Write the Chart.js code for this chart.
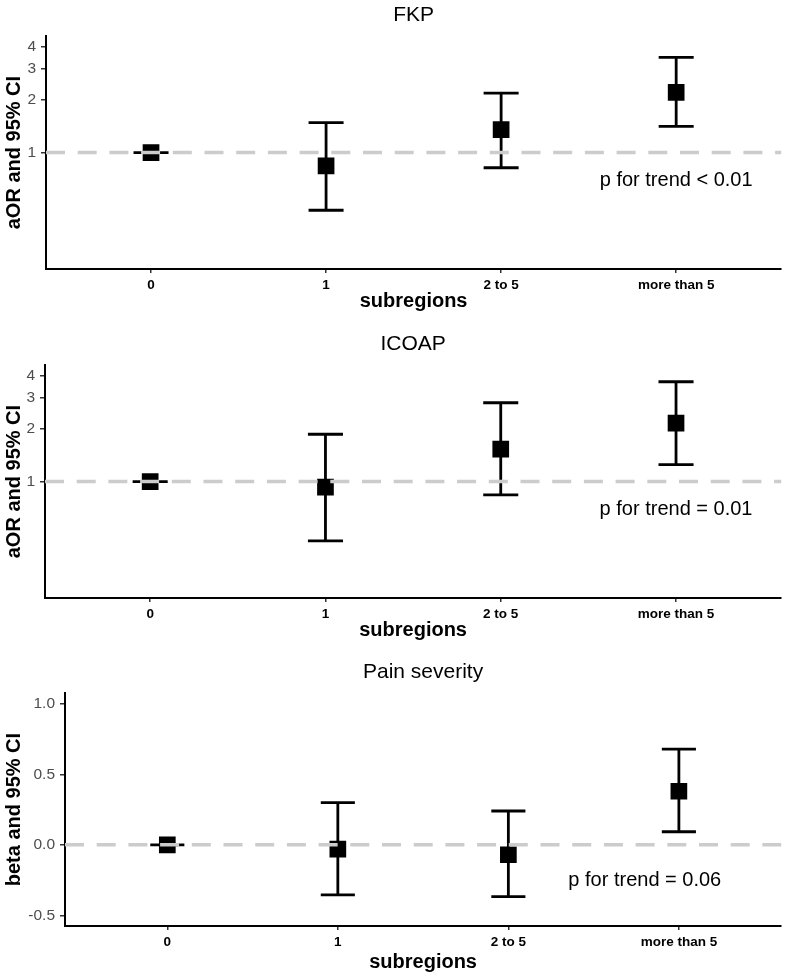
<!DOCTYPE html>
<html>
<head>
<meta charset="utf-8">
<script src="https://cdn.jsdelivr.net/npm/chart.js@4"></script>
<style>
  body { margin: 0; width: 785px; height: 975px; overflow: hidden; background: #fff; position: relative; }
  canvas { position: absolute; left: 0; }
</style>
</head>
<body>
<canvas id="fkp" width="793" height="329" style="top:0px"></canvas>
<canvas id="icoap" width="793" height="329" style="top:329px"></canvas>
<canvas id="pain" width="793" height="329" style="top:657px"></canvas>
<script>
// number of pain subregions
const categories = ['0', '1', '2 to 5', 'more than 5'];

// FKP: adjusted odds ratio and 95% CI
const fkpEst  = [1, 0.84, 1.35, 2.20];
const fkpLow  = [1, 0.47, 0.82, 1.41];
const fkpHigh = [1, 1.48, 2.18, 3.48];

// ICOAP: adjusted odds ratio and 95% CI
const icoapEst  = [1, 0.93, 1.53, 2.15];
const icoapLow  = [1, 0.46, 0.84, 1.25];
const icoapHigh = [1, 1.86, 2.81, 3.70];

// pain severity: beta and 95% CI
const painEst  = [0, -0.03, -0.07, 0.38];
const painLow  = [0, -0.355, -0.367, 0.093];
const painHigh = [0, 0.30, 0.24, 0.678];

const orTicks = [1, 2, 3, 4];
const betaTicks = [-0.5, 0, 0.5, 1.0];
const trendNotes = ['p for trend < 0.01', 'p for trend = 0.01', 'p for trend = 0.06'];

Chart.defaults.font.family = '"Liberation Sans", Arial, sans-serif';

// ggplot style 5% expansion of the axis limits
function expandLog(lo, hi) {
  const a = Math.log10(lo), b = Math.log10(hi), e = (b - a) * 0.05;
  return [Math.pow(10, a - e), Math.pow(10, b + e)];
}
function expandLin(lo, hi) {
  const e = (hi - lo) * 0.05;
  return [lo - e, hi + e];
}

const forestPlugin = {
  id: 'forest',
  beforeDatasetsDraw(chart, args, o) {
    const { ctx, scales: { x, y } } = chart;
    ctx.save();
    ctx.strokeStyle = '#000';
    ctx.lineWidth = 2.8;
    o.low.forEach((lo, i) => {
      const px = x.getPixelForValue(i);
      const w = x.getPixelForValue(i + 0.1) - px;
      const yl = y.getPixelForValue(lo);
      const yh = y.getPixelForValue(o.high[i]);
      ctx.beginPath();
      ctx.moveTo(px, yl); ctx.lineTo(px, yh);
      ctx.moveTo(px - w, yl); ctx.lineTo(px + w, yl);
      ctx.moveTo(px - w, yh); ctx.lineTo(px + w, yh);
      ctx.stroke();
    });
    ctx.restore();
  },
  afterDatasetsDraw(chart, args, o) {
    const { ctx, chartArea, scales: { x, y } } = chart;
    ctx.save();
    // reference line
    const ry = y.getPixelForValue(o.ref);
    ctx.strokeStyle = '#cccccc';
    ctx.lineWidth = 3.5;
    ctx.setLineDash([19, 12.7]);
    ctx.beginPath();
    ctx.moveTo(chartArea.left, ry);
    ctx.lineTo(chartArea.right, ry);
    ctx.stroke();
    // trend note
    ctx.setLineDash([]);
    ctx.fillStyle = '#000';
    ctx.font = '20px "Liberation Sans", Arial, sans-serif';
    ctx.textAlign = 'center';
    ctx.textBaseline = 'middle';
    ctx.fillText(o.note, x.getPixelForValue(o.noteX), y.getPixelForValue(o.noteY));
    ctx.restore();
  }
};

function drawPanel(id, p) {
  return new Chart(id, {
    type: 'scatter',
    data: {
      datasets: [{
        data: p.est.map((v, i) => ({ x: i, y: v })),
        pointStyle: 'rect',
        pointRadius: 11.8,
        pointHoverRadius: 11.8,
        backgroundColor: '#000',
        borderWidth: 0
      }]
    },
    options: {
      responsive: false,
      animation: false,
      devicePixelRatio: 1,
      events: [],
      layout: { padding: { top: 0, right: 4, bottom: 0, left: 0 } },
      plugins: {
        legend: { display: false },
        tooltip: { enabled: false },
        title: {
          display: true, text: p.title, fullSize: false, color: '#000',
          font: { size: 21, weight: 'normal' },
          padding: { top: 3, bottom: 8 }
        },
        forest: { low: p.low, high: p.high, ref: p.ref, note: p.note, noteX: p.noteX, noteY: p.noteY }
      },
      scales: {
        x: {
          type: 'linear', min: -0.6, max: 3.6,
          afterBuildTicks: s => { s.ticks = categories.map((c, i) => ({ value: i })); },
          afterFit: s => { s.height = 60; },
          ticks: {
            callback: v => categories[v], color: '#000', autoSkip: false, maxRotation: 0,
            font: { size: 13.5, weight: 'bold' }, padding: 4
          },
          grid: { display: true, drawOnChartArea: false, tickLength: 4, color: '#333', lineWidth: 1.5 },
          border: { display: true, color: '#000', width: 2 },
          title: {
            display: true, text: 'subregions', color: '#000',
            font: { size: 20, weight: 'bold' }, padding: { top: 0, bottom: p.xTitlePad }
          }
        },
        y: {
          type: p.log ? 'logarithmic' : 'linear',
          min: p.range[0], max: p.range[1],
          afterBuildTicks: s => { s.ticks = p.ticks.map(v => ({ value: v })); },
          afterFit: s => { s.width = p.axisWidth; },
          ticks: {
            callback: p.fmt, color: '#4d4d4d', autoSkip: false,
            font: { size: 15.5 }, padding: 5
          },
          grid: { display: true, drawOnChartArea: false, tickLength: 5, color: '#333', lineWidth: 1.5 },
          border: { display: true, color: '#000', width: 2 },
          title: {
            display: true, text: p.yTitle, color: '#000',
            font: { size: 20, weight: 'bold' }, padding: { top: 2, bottom: 0 }
          }
        }
      }
    },
    plugins: [forestPlugin]
  });
}

drawPanel('fkp', {
  title: 'FKP', yTitle: 'aOR and 95% CI', log: true,
  est: fkpEst, low: fkpLow, high: fkpHigh,
  range: expandLog(0.25, 4), ticks: orTicks, fmt: v => String(v),
  axisWidth: 46, xTitlePad: 16, ref: 1, note: trendNotes[0], noteX: 3, noteY: 0.69
});

drawPanel('icoap', {
  title: 'ICOAP', yTitle: 'aOR and 95% CI', log: true,
  est: icoapEst, low: icoapLow, high: icoapHigh,
  range: expandLog(0.25, 4), ticks: orTicks, fmt: v => String(v),
  axisWidth: 45, xTitlePad: 16, ref: 1, note: trendNotes[1], noteX: 3, noteY: 0.69
});

drawPanel('pain', {
  title: 'Pain severity', yTitle: 'beta and 95% CI', log: false,
  est: painEst, low: painLow, high: painHigh,
  range: expandLin(-0.5, 1.0), ticks: betaTicks, fmt: v => v.toFixed(1),
  axisWidth: 65, xTitlePad: 12, ref: 0, note: trendNotes[2], noteX: 2.8, noteY: -0.25
});
</script>
</body>
</html>
